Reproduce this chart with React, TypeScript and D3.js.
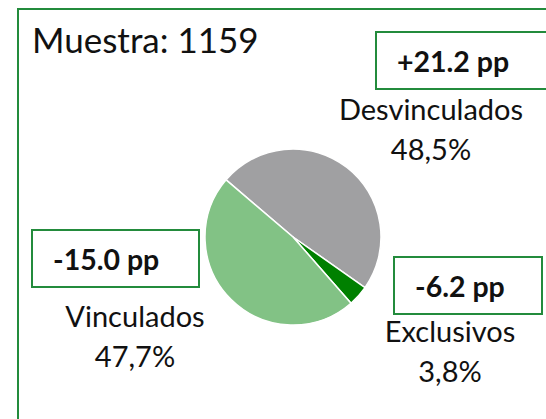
import React, { useEffect, useRef } from "react";
import * as d3 from "d3";

// data
const categories = ["Desvinculados", "Exclusivos", "Vinculados"];
const shares = [48.5, 3.8, 47.7];
const shareLabels = ["48,5%", "3,8%", "47,7%"];
const changes = ["+21.2 pp", "-6.2 pp", "-15.0 pp"];
const sampleSize = 1159;

const colors = ["#a0a0a2", "#008000", "#82c285"];
const frameGreen = "#238b3c";

// where each label sits (name center, box left/top)
const labelPos = [
  { cx: 431, y: 120, bx: 376, by: 32, bw: 190 },
  { cx: 450, y: 342, bx: 394, by: 257, bw: 148 },
  { cx: 135, y: 327, bx: 32, by: 230, bw: 167 },
];

const W = 546;
const H = 419;
const FONT = "Lato, 'Open Sans', sans-serif";

export default function App() {
  const svgRef = useRef<SVGSVGElement>(null);

  useEffect(() => {
    const svg = d3.select(svgRef.current);
    svg.selectAll("*").remove();

    svg.append("rect").attr("width", W).attr("height", H).attr("fill", "#fff");

    // outer frame (runs off the right and bottom edges)
    svg
      .append("rect")
      .attr("x", 18)
      .attr("y", 9)
      .attr("width", W)
      .attr("height", H)
      .attr("fill", "none")
      .attr("stroke", frameGreen)
      .attr("stroke-width", 2);

    svg
      .append("text")
      .attr("x", 32)
      .attr("y", 53)
      .attr("font-family", FONT)
      .attr("font-size", 35)
      .attr("fill", "#111")
      .text(`Muestra: ${sampleSize}`);

    // pie
    const cx = 293;
    const cy = 237;
    const r = 88;
    const start = (-49.5 * Math.PI) / 180;
    const pie = d3
      .pie<number>()
      .sort(null)
      .value((d) => d)
      .startAngle(start)
      .endAngle(start + 2 * Math.PI);
    const arc = d3.arc<d3.PieArcDatum<number>>().innerRadius(0).outerRadius(r);

    const g = svg.append("g").attr("transform", `translate(${cx},${cy})`);
    g.selectAll("path")
      .data(pie(shares))
      .enter()
      .append("path")
      .attr("d", arc)
      .attr("fill", (d, i) => colors[i])
      .attr("stroke", "#fff")
      .attr("stroke-width", 1.5);

    // labels and change boxes
    categories.forEach((name, i) => {
      const p = labelPos[i];
      svg
        .append("rect")
        .attr("x", p.bx)
        .attr("y", p.by)
        .attr("width", p.bw)
        .attr("height", 57)
        .attr("fill", "#fff")
        .attr("stroke", frameGreen)
        .attr("stroke-width", 2);
      svg
        .append("text")
        .attr("x", p.bx + 21)
        .attr("y", p.by + 40)
        .attr("font-family", FONT)
        .attr("font-weight", "bold")
        .attr("font-size", 28.5)
        .attr("fill", "#111")
        .text(changes[i]);
      const t = svg
        .append("text")
        .attr("text-anchor", "middle")
        .attr("font-family", FONT)
        .attr("font-size", 29)
        .attr("fill", "#111");
      t.append("tspan").attr("x", p.cx).attr("y", p.y).text(name);
      t.append("tspan").attr("x", p.cx).attr("y", p.y + 40).text(shareLabels[i]);
    });
  }, []);

  return (
    <svg
      ref={svgRef}
      width={W}
      height={H}
      style={{ position: "absolute", left: 0, top: 0 }}
    ></svg>
  );
}
